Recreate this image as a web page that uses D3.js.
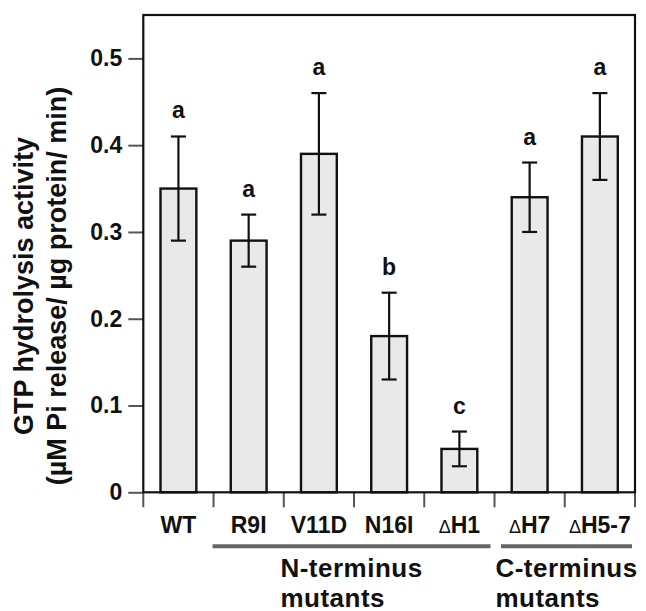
<!DOCTYPE html>
<html>
<head>
<meta charset="utf-8">
<script src="https://cdn.jsdelivr.net/npm/d3@7"></script>
<style>
  body { margin: 0; background: #fff; }
  svg text { font-family: "Liberation Sans", Arial, Helvetica, sans-serif; font-weight: bold; fill: #111; }
</style>
</head>
<body>
<div id="wrapper"></div>
<script>
const categories = ["WT", "R9I", "V11D", "N16I", "ΔH1", "ΔH7", "ΔH5-7"]
const means = [0.35, 0.29, 0.39, 0.18, 0.05, 0.34, 0.41]
const errLow = [0.29, 0.26, 0.32, 0.13, 0.03, 0.30, 0.36]
const errHigh = [0.41, 0.32, 0.46, 0.23, 0.07, 0.38, 0.46]
const letters = ["a", "a", "a", "b", "c", "a", "a"]
const yTicks = [0, 0.1, 0.2, 0.3, 0.4, 0.5]
const groupNames = [["N-terminus", "mutants"], ["C-terminus", "mutants"]]
const groupFrom = ["R9I", "ΔH7"]
const groupTo = ["ΔH1", "ΔH5-7"]
const yTitle = ["GTP hydrolysis activity", "(µM Pi release/ µg protein/ min)"]

const data = categories.map((c, i) => ({
  cat: c, mean: means[i], lo: errLow[i], hi: errHigh[i], letter: letters[i],
}))

// dimensions
const dimensions = {
  width: 646,
  height: 611,
  margins: { top: 15, right: 11, bottom: 118.7, left: 143.3 },
}
dimensions.boundedWidth = dimensions.width - dimensions.margins.left - dimensions.margins.right
dimensions.boundedHeight = dimensions.height - dimensions.margins.top - dimensions.margins.bottom

const svg = d3.select("#wrapper").append("svg")
  .attr("width", dimensions.width)
  .attr("height", dimensions.height)

const bounds = svg.append("g")
  .attr("transform", `translate(${dimensions.margins.left},${dimensions.margins.top})`)

// scales
const xScale = d3.scaleBand()
  .domain(categories)
  .range([0, dimensions.boundedWidth])
  .paddingInner(0).paddingOuter(0)

const yScale = d3.scaleLinear()
  .domain([0, 0.55])
  .range([dimensions.boundedHeight, 0])

const bw = xScale.bandwidth()
const barW = bw * 0.51

// bars
bounds.selectAll("rect.bar").data(data).join("rect")
  .attr("class", "bar")
  .attr("x", d => xScale(d.cat) + (bw - barW) / 2)
  .attr("y", d => yScale(d.mean))
  .attr("width", barW)
  .attr("height", d => yScale(0) - yScale(d.mean))
  .attr("fill", "#e9e9e9")
  .attr("stroke", "#111")
  .attr("stroke-width", 2.4)

// error bars
const capW = 15
const err = bounds.selectAll("g.err").data(data).join("g").attr("class", "err")
  .attr("transform", d => `translate(${xScale(d.cat) + bw / 2},0)`)
err.append("line")
  .attr("y1", d => yScale(d.lo)).attr("y2", d => yScale(d.hi))
err.append("line")
  .attr("x1", -capW / 2).attr("x2", capW / 2)
  .attr("y1", d => yScale(d.hi)).attr("y2", d => yScale(d.hi))
err.append("line")
  .attr("x1", -capW / 2).attr("x2", capW / 2)
  .attr("y1", d => yScale(d.lo)).attr("y2", d => yScale(d.lo))
err.selectAll("line").attr("stroke", "#111").attr("stroke-width", 2.2)

// significance letters
err.append("text")
  .attr("y", d => yScale(d.hi) - 18)
  .attr("text-anchor", "middle")
  .attr("font-size", 23)
  .text(d => d.letter)

// y axis
const yAxisGenerator = d3.axisLeft(yScale)
  .tickValues(yTicks)
  .tickFormat(d => d === 0 ? "0" : d3.format(".1f")(d))
  .tickSize(15)
  .tickPadding(6)
const yAxis = bounds.append("g").call(yAxisGenerator)
yAxis.select(".domain").remove()
yAxis.selectAll(".tick line").attr("stroke", "#555").attr("stroke-width", 2)
yAxis.selectAll(".tick text")
  .attr("font-size", 23).attr("fill", "#111")
  .attr("font-family", "Liberation Sans, Arial, sans-serif").attr("font-weight", "bold")

// x boundary ticks
const edges = categories.map(c => xScale(c)).concat([dimensions.boundedWidth])
bounds.selectAll("line.xtick").data(edges).join("line")
  .attr("class", "xtick")
  .attr("x1", d => d).attr("x2", d => d)
  .attr("y1", dimensions.boundedHeight).attr("y2", dimensions.boundedHeight + 15)
  .attr("stroke", "#555").attr("stroke-width", 2)

// x labels
const xl = bounds.selectAll("text.xl").data(categories).join("text")
  .attr("class", "xl")
  .attr("x", d => xScale(d) + bw / 2)
  .attr("y", dimensions.boundedHeight + 41)
  .attr("text-anchor", "middle")
  .attr("font-size", 23)
xl.each(function (d) {
  const t = d3.select(this)
  if (d[0] === "Δ") {
    t.append("tspan").attr("font-size", 18).attr("font-weight", "normal").text("Δ")
    t.append("tspan").text(d.slice(1))
  } else {
    t.text(d)
  }
})

// frame
bounds.append("rect")
  .attr("width", dimensions.boundedWidth)
  .attr("height", dimensions.boundedHeight)
  .attr("fill", "none")
  .attr("stroke", "#111")
  .attr("stroke-width", 2.2)

// group brackets
const lineY = dimensions.boundedHeight + 54
groupNames.forEach((names, i) => {
  const x0 = xScale(groupFrom[i]) + (i === 0 ? -1 : 6.5)
  const x1 = xScale(groupTo[i]) + bw - (i === 0 ? 4 : 3)
  bounds.append("line")
    .attr("x1", x0).attr("x2", x1)
    .attr("y1", lineY).attr("y2", lineY)
    .attr("stroke", "#666").attr("stroke-width", 4)
  const cx = (x0 + x1) / 2
  const first = bounds.append("text")
    .attr("x", cx).attr("y", dimensions.boundedHeight + 84.5)
    .attr("text-anchor", "middle")
    .attr("font-size", 26).attr("letter-spacing", 0.5)
    .text(names[0])
  const w = first.node().getComputedTextLength()
  bounds.append("text")
    .attr("x", cx - w / 2).attr("y", dimensions.boundedHeight + 115)
    .attr("font-size", 26).attr("letter-spacing", 0.5)
    .text(names[1])
})

// y title
const titleY = dimensions.margins.top + 271
svg.selectAll("text.ytitle").data(yTitle).join("text")
  .attr("class", "ytitle")
  .attr("transform", (d, i) => `translate(${i === 0 ? 33 : 66},${titleY}) rotate(-90)`)
  .attr("text-anchor", "middle")
  .attr("font-size", 27)
  .text(d => d)
</script>
</body>
</html>
